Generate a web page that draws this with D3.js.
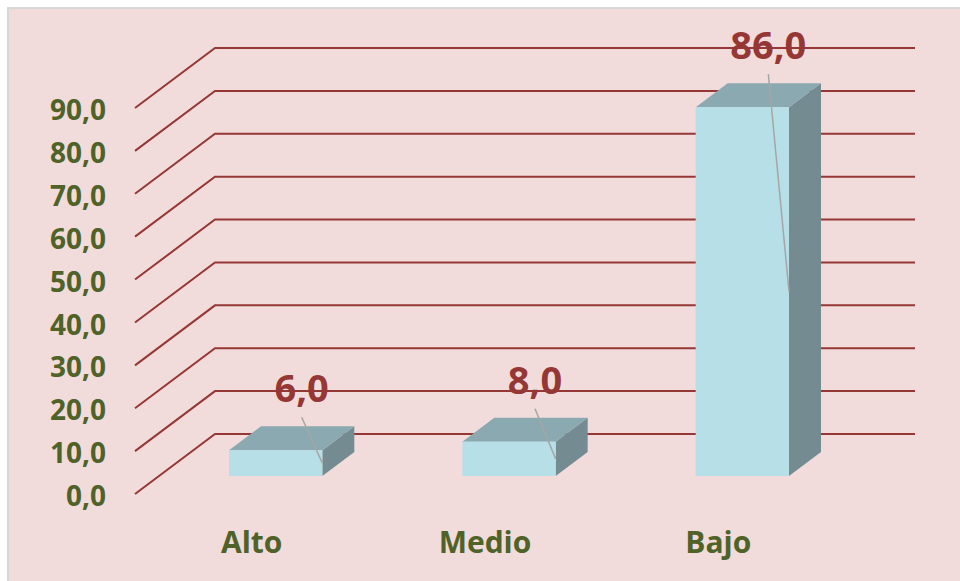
<!DOCTYPE html>
<html>
<head>
<meta charset="utf-8">
<script src="https://cdn.jsdelivr.net/npm/d3@7"></script>
<style>
  html, body { margin: 0; padding: 0; background: #ffffff; }
  svg { display: block; }
</style>
</head>
<body>
<svg id="chart" width="960" height="581"></svg>
<script>
// Chart data
const categories = ["Alto", "Medio", "Bajo"];
const values = [6.0, 8.0, 86.0];
const yTicks = [0, 10, 20, 30, 40, 50, 60, 70, 80, 90];

const svg = d3.select("#chart");
const W = 960, H = 581;

// Locale with decimal comma
const locale = d3.formatLocale({ decimal: ",", thousands: ".", grouping: [3], currency: ["", ""] });
const fmt = locale.format(".1f");

// Panel
svg.append("rect").attr("x", 0).attr("y", 0).attr("width", W).attr("height", H).attr("fill", "#ffffff");
svg.append("rect").attr("x", 8).attr("y", 8).attr("width", W).attr("height", H)
  .attr("fill", "#f2dcdb").attr("stroke", "#d5d8d6").attr("stroke-width", 2);

// 3D projection: depth z in [0,1] shifts right and up
const DX = 80, DY = -60;
const x = d3.scaleBand().domain(categories).range([135, 835]).paddingInner(0.6).paddingOuter(0.3);
const y = d3.scaleLinear().domain([0, 90]).range([494, 108]);
const proj = (px, v, z) => [px + DX * z, y(v) + DY * z];

const gridColor = "#953735";
const green = "#4f6228";
const fontFam = "'Open Sans', 'Noto Sans', sans-serif";

// Gridlines: diagonal along the side wall then across the back wall
const grid = svg.append("g");
yTicks.forEach(t => {
  const p0 = proj(x.range()[0], t, 0);
  const p1 = proj(x.range()[0], t, 1);
  const p2 = proj(x.range()[1], t, 1);
  grid.append("path")
    .attr("d", d3.line()([p0, p1, p2]))
    .attr("fill", "none")
    .attr("stroke", gridColor)
    .attr("stroke-width", 2);
});

// Y axis labels
svg.append("g").selectAll("text").data(yTicks).join("text")
  .attr("x", 106)
  .attr("y", d => y(d) + 2)
  .attr("dy", "0.36em")
  .attr("text-anchor", "end")
  .attr("font-family", fontFam)
  .attr("font-weight", 700)
  .attr("font-size", 28)
  .attr("fill", green)
  .text(d => fmt(d));

// Bars (front, top and right faces)
const z0 = 0.3, z1 = 0.7;
const bars = svg.append("g");
categories.forEach((c, i) => {
  const v = values[i];
  const xl = x(c), xr = x(c) + x.bandwidth();
  const g = bars.append("g");
  // right side face
  g.append("path")
    .attr("d", d3.line()([proj(xr, 0, z0), proj(xr, 0, z1), proj(xr, v, z1), proj(xr, v, z0)]) + "Z")
    .attr("fill", "#748b91");
  // top face
  g.append("path")
    .attr("d", d3.line()([proj(xl, v, z0), proj(xl, v, z1), proj(xr, v, z1), proj(xr, v, z0)]) + "Z")
    .attr("fill", "#8aa9b0");
  // front face
  const fl = proj(xl, v, z0), fr = proj(xr, 0, z0);
  g.append("rect")
    .attr("x", fl[0]).attr("y", fl[1])
    .attr("width", fr[0] - fl[0]).attr("height", fr[1] - fl[1])
    .attr("fill", "#b7dfe8");
});

// Value labels with leader lines
const labels = svg.append("g");
categories.forEach((c, i) => {
  const v = values[i];
  const xl = x(c), xr = x(c) + x.bandwidth();
  const frontTop = proj(xl, v, z0)[1];
  const frontBottom = proj(xl, 0, z0)[1];
  const cx = (proj(xl, v, z0)[0] + proj(xr, v, z0)[0]) / 2 + 26;
  const base = frontTop - 48;
  labels.append("line")
    .attr("x1", cx).attr("y1", base + 15)
    .attr("x2", proj(xr, v, z0)[0]).attr("y2", (frontTop + frontBottom) / 2)
    .attr("stroke", "#a6a6a6").attr("stroke-width", 1.5);
  labels.append("text")
    .attr("x", cx).attr("y", base)
    .attr("text-anchor", "middle")
    .attr("font-family", fontFam)
    .attr("font-weight", 700)
    .attr("font-size", 38)
    .attr("fill", "#953735")
    .text(fmt(v));
});

// Category labels
svg.append("g").selectAll("text").data(categories).join("text")
  .attr("x", d => x(d) + x.bandwidth() / 2)
  .attr("y", 553)
  .attr("text-anchor", "middle")
  .attr("font-family", fontFam)
  .attr("font-weight", 700)
  .attr("font-size", 30)
  .attr("fill", green)
  .text(d => d);
</script>
</body>
</html>
